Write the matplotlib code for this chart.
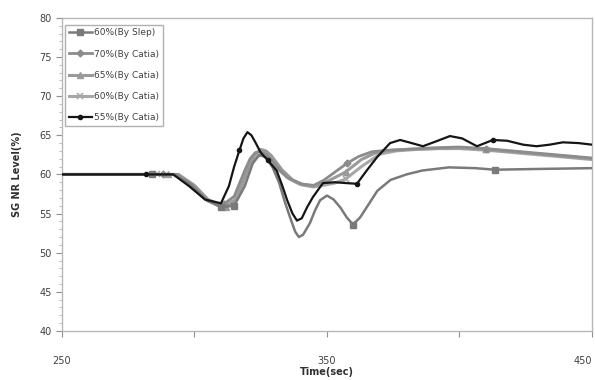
import numpy as np
import matplotlib.pyplot as plt
from matplotlib.ticker import MultipleLocator

# values (time in sec, level in %)
slep_t = [250, 284, 292, 298, 304, 310, 315, 319, 322, 324.5, 327, 329.5, 332, 334, 336,
          338, 339.4, 341, 343.6, 345.5, 347.4, 350, 352.5, 355, 357.5, 359.8, 362.5, 365,
          369, 374, 380, 386, 396, 406, 413.4, 430, 450]
slep_y = [60, 60, 60, 58.8, 56.8, 55.8, 56.0, 58.5, 61.4, 62.5, 62.2, 60.9, 58.9, 56.6,
          54.6, 52.7, 52.0, 52.3, 53.8, 55.4, 56.7, 57.3, 56.8, 55.8, 54.5, 53.6, 54.5,
          55.8, 57.9, 59.3, 60.0, 60.5, 60.9, 60.8, 60.6, 60.7, 60.8]
slep_mk = [1, 5, 6, 25, 34]

c70_t = [250, 288, 293, 299, 305, 311, 315, 319, 321, 323, 325, 327, 329, 331, 335, 340,
         345, 349, 353, 357.5, 362, 367, 373, 380, 390, 400, 410, 420, 430, 440, 450]
c70_y = [60, 60, 60, 58.7, 56.6, 56.2, 57.2, 60.5, 62.0, 62.8, 62.9, 62.6, 61.9, 61.0, 59.6,
         58.8, 58.6, 59.3, 60.3, 61.4, 62.3, 62.9, 63.1, 63.2, 63.4, 63.5, 63.3, 63.0, 62.7,
         62.4, 62.1]
c70_mk = [1, 5, 19, 26]

c65_t = [250, 290, 294, 300, 306, 312, 316, 320, 322.5, 325, 327, 329, 333, 337, 341, 345,
         349, 353, 357, 363, 368, 372, 380, 390, 400, 410, 420, 430, 440, 450]
c65_y = [60, 60, 60, 58.6, 56.5, 55.8, 56.8, 60.4, 62.4, 63.2, 63.0, 62.4, 60.6, 59.3, 58.7,
         58.5, 58.9, 59.6, 60.3, 61.9, 62.7, 63.0, 63.2, 63.3, 63.4, 63.2, 62.9, 62.6, 62.3,
         62.0]
c65_mk = [1, 5, 18, 25]

c60_t = [250, 286, 293, 299, 305, 311, 315, 319, 321.5, 324, 326, 328, 332, 336, 340,
         344.7, 348.5, 353, 357, 363, 370, 376, 384, 392, 400, 410, 420, 430, 440, 450]
c60_y = [60, 60, 60, 58.8, 56.8, 56.0, 56.7, 59.8, 61.5, 62.4, 62.4, 62.1, 60.5, 59.4, 58.7,
         58.4, 58.6, 58.9, 59.4, 61.0, 62.6, 63.0, 63.2, 63.3, 63.3, 63.1, 62.8, 62.5, 62.2,
         61.9]
c60_mk = [1, 5, 18, 25]

c55_t = [250, 281.7, 292, 298, 304, 310, 313, 315, 317, 318.5, 320, 321.5, 323, 325,
         327.7, 331, 333, 335, 337, 338.7, 340.5, 342.5, 344.7, 348.5, 353, 357, 361.3,
         365, 368.9, 373.8, 377.6, 382, 386.2, 391, 396.4, 401, 406.6, 412.6, 418, 424,
         429.1, 434, 439, 445, 450]
c55_y = [60, 60, 60, 58.5, 56.8, 56.3, 58.5, 61.0, 63.1, 64.6, 65.4, 65.0, 64.1, 62.8,
         61.8, 60.5, 58.7, 56.7, 55.0, 54.1, 54.4, 55.8, 57.1, 58.9, 59.0, 58.9, 58.8,
         60.5, 62.2, 64.0, 64.4, 64.0, 63.6, 64.2, 64.9, 64.6, 63.6, 64.4, 64.3, 63.8,
         63.6, 63.8, 64.1, 64.0, 63.8]
c55_mk = [1, 8, 14, 26, 37]

labels = ["60%(By Slep)", "70%(By Catia)", "65%(By Catia)", "60%(By Catia)", "55%(By Catia)"]

fig = plt.figure(figsize=(5.95, 3.8), dpi=100)
ax = fig.add_axes([0.104, 0.129, 0.891, 0.824])

ax.plot(c60_t, c60_y, color="#a8a8a8", lw=2.2, marker="x", ms=4, mew=1.2,
        markevery=c60_mk, label=labels[3], zorder=2)
ax.plot(c65_t, c65_y, color="#9a9a9a", lw=2.2, marker="^", ms=4,
        markevery=c65_mk, label=labels[2], zorder=3)
ax.plot(c70_t, c70_y, color="#8c8c8c", lw=2.0, marker="D", ms=3.5,
        markevery=c70_mk, label=labels[1], zorder=4)
ax.plot(slep_t, slep_y, color="#7a7a7a", lw=1.8, marker="s", ms=5,
        markevery=slep_mk, label=labels[0], zorder=5)
ax.plot(c55_t, c55_y, color="#151515", lw=1.6, marker="o", ms=3,
        markevery=c55_mk, label=labels[4], zorder=6)

ax.set_xlim(250, 450)
ax.set_ylim(40, 80)
ax.set_xticks([250, 300, 350, 400, 450])
ax.set_xticklabels(["250", "", "350", "", "450"])
ax.get_xticklabels()[-1].set_horizontalalignment("right")
ax.yaxis.set_major_locator(MultipleLocator(5))
ax.yaxis.set_minor_locator(MultipleLocator(1))
ax.tick_params(axis="x", direction="out", length=4, pad=14, colors="#909090",
               labelcolor="#404040", labelsize=7)
ax.tick_params(axis="y", which="major", direction="out", length=4, colors="#909090",
               labelcolor="#404040", labelsize=7)
ax.tick_params(axis="y", which="minor", direction="out", length=2, colors="#b0b0b0")

for s in ax.spines.values():
    s.set_color("#b8b8b8")
    s.set_linewidth(1.0)

ax.set_xlabel("Time(sec)", fontsize=7, fontweight="bold", color="#303030", labelpad=1)
ax.set_ylabel("SG NR Level(%)", fontsize=7, fontweight="bold", color="#303030", labelpad=12)

# legend in the order of the original
h, l = ax.get_legend_handles_labels()
order = [l.index(x) for x in labels]
leg = ax.legend([h[i] for i in order], [l[i] for i in order], loc="upper left",
                bbox_to_anchor=(0.006, 0.978), borderaxespad=0, fontsize=6.5,
                labelspacing=1.35, handlelength=2.6, handletextpad=0.2,
                fancybox=False, edgecolor="#b0b0b0", framealpha=1)
for t in leg.get_texts():
    t.set_color("#404040")

fig.savefig("out.png", dpi=100)
